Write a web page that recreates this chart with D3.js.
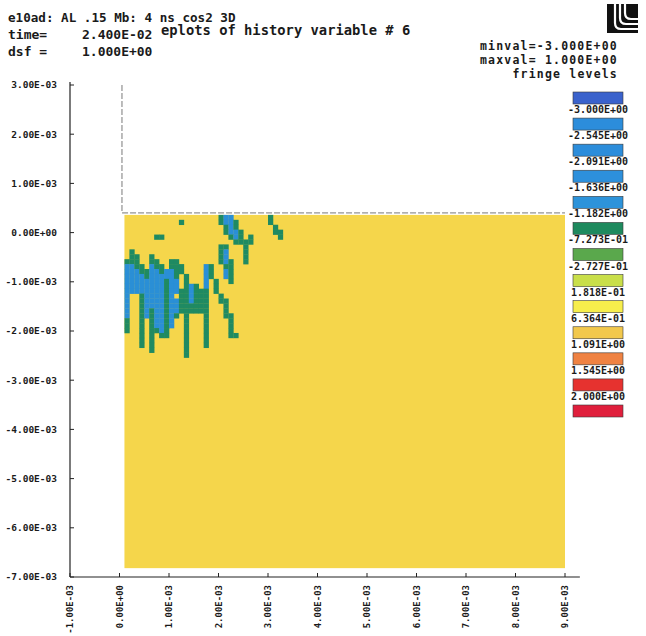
<!DOCTYPE html>
<html>
<head>
<meta charset="utf-8">
<script src="https://cdn.jsdelivr.net/npm/d3@7"></script>
<style>
    body { margin: 0; background: #fff; }
    svg text { font-family: "DejaVu Sans Mono", monospace; fill: #1a1a1a; }
</style>
</head>
<body>
<div id="chart"></div>
<script>
// axis ticks, in model units
const xTicks = [-1e-3, 0, 1e-3, 2e-3, 3e-3, 4e-3, 5e-3, 6e-3, 7e-3, 8e-3, 9e-3];
const yTicks = [3e-3, 2e-3, 1e-3, 0, -1e-3, -2e-3, -3e-3, -4e-3, -5e-3, -6e-3, -7e-3];

// fringe legend
const fringeLabels = ["-3.000E+00", "-2.545E+00", "-2.091E+00", "-1.636E+00", "-1.182E+00", "-7.273E-01",
    "-2.727E-01", "1.818E-01", "6.364E-01", "1.091E+00", "1.545E+00", "2.000E+00"];
const fringeColors = ["#3a62cc", "#2c8ddb", "#2c8ddb", "#2d90dc", "#2d93da", "#1e8a5e", "#5aa84c",
    "#c9df4a", "#f7ee4c", "#f2c84c", "#ef8242", "#e6322f", "#e01f3c"];

// header text
const headerLines = ["e10ad: AL .15 Mb: 4 ns cos2 3D", "time=", "dsf ="];
const headerValues = ["2.400E-02", "1.000E+00"];
const plotTitle = "eplots of history variable # 6";
const rangeLines = ["minval=-3.000E+00", "maxval= 1.000E+00", "fringe levels"];

// the body (x and y extent) and the element grid
const bodyX = [0.1e-3, 9e-3];
const bodyY = [-6.82e-3, 0.36e-3];
const cellSize = 0.1e-3;
// '.' = body level (yellow), 'g' = -7.273E-01 band, 'b' = -1.182E+00 band; row 0 is the top of the body
const cellRows = [
    "...................gbb.......g..",
    "...........g.......gbbg......g..",
    "....................gbg.......g.",
    "....................gbbg......gg",
    "......gg.............gbg.g.....g",
    "......................gggg......",
    "...................gg...g.......",
    ".g.................gb...g.......",
    ".gg..g.............gb...g.......",
    "ggg..gg..gg........gbg..g.......",
    "bbgg.bgg.ggg....bg..gg..........",
    "bbbggbbgbbgg....bg..bg..........",
    "bbbbgbbbbbg.g...bg..bg..........",
    "bbbbbbbbgbb.g...b.g..g..........",
    "bbbbbbbbgbb.gbg.b.g.............",
    "bbbbbbbbgbbggbggg.g.............",
    "b..gbbbbgb.ggbggg..g............",
    "b..gbbbbgbbggbggg..gg...........",
    "b..gbbbbgbbgggggg...g...........",
    "b..gbgbbgbbgggggg...g...........",
    "b..gbgbbgbg.g...g...gg..........",
    "g..g.gbbgb..g...g....g..........",
    "g..g.gbbgb..g...g....g..........",
    "g..g.ggbg...g...g....g..........",
    "...g.g.gg...g...g....gg.........",
    "...g.g......g...g...............",
    "...g.g......g...g...............",
    ".....g......g...................",
    "............g..................."
];
const cellColors = { ".": "#f5d64b", "g": "#1f8a62", "b": "#2a8fd6" };

const width = 646;
const height = 636;

// 3.00E-03 style labels
function fmtE(v, digits) {
    const [m, e] = v.toExponential(digits).split("e");
    const n = +e;
    return m.toUpperCase() + "E" + (n < 0 ? "-" : "+") + String(Math.abs(n)).padStart(2, "0");
}

const svg = d3.select("#chart").append("svg")
    .attr("width", width)
    .attr("height", height);

const x = d3.scaleLinear().domain([-1e-3, 9e-3]).range([70, 565]);
const y = d3.scaleLinear().domain([3e-3, -7e-3]).range([85, 577]);

// outline of the undeformed part above the body
svg.append("path")
    .attr("d", `M${x(0.05e-3)},${y(3e-3)} V${y(0.4e-3)} H${x(9e-3)}`)
    .attr("fill", "none")
    .attr("stroke", "#555")
    .attr("stroke-width", 0.8)
    .attr("stroke-dasharray", "6,2");

// body
svg.append("rect")
    .attr("x", x(bodyX[0]))
    .attr("y", y(bodyY[1]))
    .attr("width", x(bodyX[1]) - x(bodyX[0]))
    .attr("height", y(bodyY[0]) - y(bodyY[1]))
    .attr("fill", cellColors["."]);

// elements that are not at the body level
const cells = [];
cellRows.forEach((row, r) => {
    row.split("").forEach((c, k) => {
        if (c !== ".") cells.push({ r, k, c });
    });
});

svg.append("g").selectAll("rect")
    .data(cells)
    .join("rect")
        .attr("x", d => x(bodyX[0] + d.k * cellSize))
        .attr("y", d => y(bodyY[1] - d.r * cellSize))
        .attr("width", x(cellSize) - x(0) + 0.3)
        .attr("height", y(0) - y(cellSize) + 0.3)
        .attr("fill", d => cellColors[d.c]);

// axes
const axisColor = "#222";
svg.append("line")
    .attr("x1", x(-1e-3)).attr("x2", x(-1e-3))
    .attr("y1", y(3e-3) - 3).attr("y2", y(-7e-3))
    .attr("stroke", axisColor).attr("stroke-width", 1.2);
svg.append("line")
    .attr("x1", x(-1e-3)).attr("x2", x(9.3e-3))
    .attr("y1", y(-7e-3)).attr("y2", y(-7e-3))
    .attr("stroke", axisColor).attr("stroke-width", 1.2);

const yAxis = svg.append("g");
yAxis.selectAll("line")
    .data(yTicks)
    .join("line")
        .attr("x1", x(-1e-3)).attr("x2", x(-1e-3) + 4)
        .attr("y1", d => y(d)).attr("y2", d => y(d))
        .attr("stroke", axisColor);
yAxis.selectAll("text")
    .data(yTicks)
    .join("text")
        .attr("x", x(-1e-3) - 13)
        .attr("y", d => y(d))
        .attr("dy", "0.35em")
        .attr("text-anchor", "end")
        .attr("font-size", "9.5px")
        .attr("font-weight", "bold")
        .text(d => fmtE(d, 2));

const xAxis = svg.append("g");
xAxis.selectAll("line")
    .data(xTicks)
    .join("line")
        .attr("x1", d => x(d)).attr("x2", d => x(d))
        .attr("y1", y(-7e-3)).attr("y2", y(-7e-3) - 4)
        .attr("stroke", axisColor);
xAxis.selectAll("text")
    .data(xTicks)
    .join("text")
        .attr("transform", d => `translate(${x(d)},${y(-7e-3) + 8}) rotate(-90)`)
        .attr("dy", "0.35em")
        .attr("text-anchor", "end")
        .attr("font-size", "9px")
        .attr("font-weight", "bold")
        .text(d => fmtE(d, 2));

// header
const header = svg.append("g")
    .attr("font-weight", "bold");
header.selectAll("text.left")
    .data(headerLines)
    .join("text")
        .attr("class", "left")
        .attr("x", 8)
        .attr("y", (d, i) => 22 + i * 17)
        .attr("font-size", (d, i) => i === 0 ? "12.6px" : "13px")
        .text(d => d);
header.selectAll("text.val")
    .data(headerValues)
    .join("text")
        .attr("class", "val")
        .attr("x", 82)
        .attr("y", (d, i) => 39 + i * 17)
        .attr("font-size", "13px")
        .text(d => d);
header.append("text")
    .attr("x", 161)
    .attr("y", 35)
    .attr("font-size", "13.8px")
    .text(plotTitle);
// plotter lettering is wide but short, so a smaller font with extra spacing
header.selectAll("text.range")
    .data(rangeLines)
    .join("text")
        .attr("class", "range")
        .attr("x", 618)
        .attr("y", (d, i) => 50 + i * 14)
        .attr("text-anchor", "end")
        .attr("font-size", "11.5px")
        .attr("letter-spacing", "1.2px")
        .text(d => d);

// legend
const legendY = d3.scaleLinear().domain([0, 12]).range([92, 405]);
const legend = svg.append("g");
legend.selectAll("rect")
    .data(fringeColors)
    .join("rect")
        .attr("x", 573)
        .attr("y", (d, i) => legendY(i))
        .attr("width", 50)
        .attr("height", 12)
        .attr("fill", d => d)
        .attr("stroke", "#3a3a3a")
        .attr("stroke-width", 0.6);
legend.selectAll("text")
    .data(fringeLabels)
    .join("text")
        .attr("x", 598)
        .attr("y", (d, i) => legendY(i) + 21)
        .attr("text-anchor", "middle")
        .attr("font-size", "10px")
        .attr("font-weight", "bold")
        .text(d => d);

// lab logo, top right
const logo = svg.append("g").attr("transform", "translate(607,4)");
logo.append("rect").attr("width", 31).attr("height", 29).attr("fill", "#111");
[0, 1, 2].forEach(i => {
    const lx = 8 + i * 5;
    const ly = 25 - i * 5;
    logo.append("path")
        .attr("d", `M${lx},0 V${ly - 6} Q${lx},${ly} ${lx + 6},${ly} H31`)
        .attr("fill", "none")
        .attr("stroke", "#fff")
        .attr("stroke-width", 2.2);
});
</script>
</body>
</html>
